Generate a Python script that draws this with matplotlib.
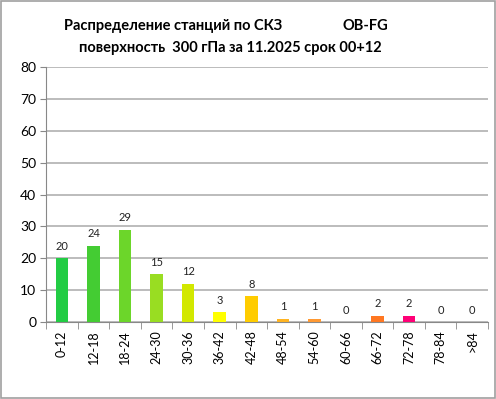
import numpy as np
import matplotlib.pyplot as plt
from matplotlib.patches import Rectangle

# данные
categories = ["0-12", "12-18", "18-24", "24-30", "30-36", "36-42", "42-48",
              "48-54", "54-60", "60-66", "66-72", "72-78", "78-84", ">84"]
counts = [20, 24, 29, 15, 12, 3, 8, 1, 1, 0, 2, 2, 0, 0]
colors = ["#22CC44", "#44CC33", "#6CD62A", "#99DD22", "#D2E800", "#FFFF00",
          "#FFCC00", "#FFB422", "#FF9933", "#FF8822", "#FF7722", "#FF0077",
          "#FF0077", "#FF0077"]
yticks = [0, 10, 20, 30, 40, 50, 60, 70, 80]

plt.rcParams['font.family'] = ['Lato', 'DejaVu Sans']

fig = plt.figure(figsize=(4.96, 3.99), dpi=100)
fig.patches.append(Rectangle((0.002, 0.003), 0.995, 0.994, transform=fig.transFigure,
                             fill=False, edgecolor="#A0A0A0", linewidth=1.2))

ax = fig.add_axes([0.093, 0.193, 0.891, 0.639])
x = np.arange(len(categories))
ax.bar(x, counts, width=0.4, color=colors, zorder=3)

for xi, c in zip(x, counts):
    ax.text(xi, c + 2, str(c), ha="center", va="bottom", fontsize=8, color="#222222")

ax.set_xlim(-0.5, len(categories) - 0.5)
ax.set_ylim(0, 80)
ax.set_yticks(yticks)
ax.tick_params(axis="y", labelsize=10, length=4, color="#888888", pad=3)
ax.yaxis.grid(True, color="#B0B0B0", linewidth=1.2, zorder=0)

ax.set_xticks(x)
ax.set_xticklabels(categories, rotation=90, fontsize=9)
ax.tick_params(axis="x", length=0, pad=6)
ax.set_xticks(np.arange(len(categories) + 1) - 0.5, minor=True)
ax.tick_params(axis="x", which="minor", length=5, color="#888888")

for s in ["top", "right"]:
    ax.spines[s].set_visible(False)
ax.spines["left"].set_color("#888888")
ax.spines["bottom"].set_color("#888888")

fig.text(0.13, 0.935, "Распределение станций по СКЗ", fontsize=10.5,
         fontweight="bold", ha="left", va="center")
fig.text(0.69, 0.935, "OB-FG", fontsize=10.5, fontweight="bold",
         ha="left", va="center")
fig.text(0.465, 0.88, "поверхность  300 гПа за 11.2025 срок 00+12", fontsize=10.5,
         fontweight="bold", ha="center", va="center")

fig.savefig("out.png", dpi=100)
